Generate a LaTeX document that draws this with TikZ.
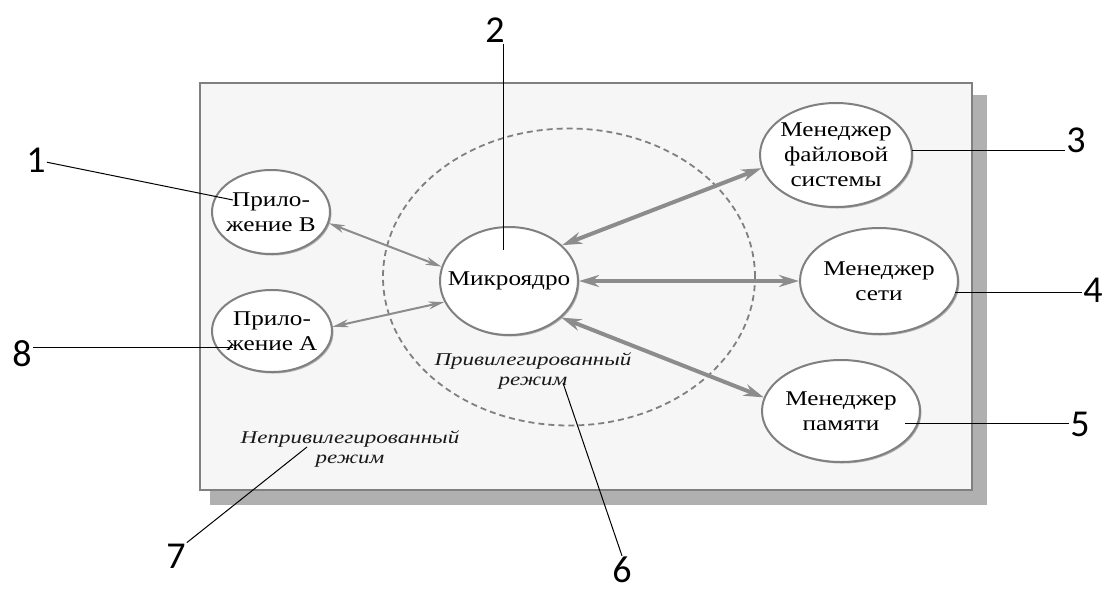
\documentclass[tikz,border=0pt]{standalone}
\usepackage{fontspec}
\setmainfont{Liberation Serif}
\newfontfamily\boxfont[FakeStretch=1.2]{Liberation Serif}
\newfontfamily\modefont[FakeStretch=1.28]{Liberation Serif}
\newfontfamily\numfont{Carlito}
\usepackage{tikz}
\usetikzlibrary{arrows.meta,shapes.geometric,shadows,positioning,calc}

\definecolor{linegray}{HTML}{808080}
\definecolor{arrowgray}{HTML}{8C8C8C}
\definecolor{framefill}{HTML}{F6F6F6}
\definecolor{shadowgray}{HTML}{B0B0B0}

\begin{document}
\begin{tikzpicture}[x=1pt,y=-1pt,
		module/.style={ellipse, draw=linegray, line width=2pt, fill=white, inner xsep=-15pt, inner ysep=-4pt, align=center, font=\boxfont\fontsize{21}{25}\selectfont, drop shadow={shadow xshift=1.5pt, shadow yshift=-1.5pt, fill=shadowgray, opacity=1}},
		link/.style={draw=arrowgray, line width=2pt, {Stealth[length=16pt,width=8pt]}-{Stealth[length=16pt,width=8pt]}},
		biglink/.style={draw=arrowgray, line width=4pt, {Stealth[length=20pt,width=12pt]}-{Stealth[length=20pt,width=12pt]}},
		callout/.style={draw=black, line width=1pt},
		num/.style={font=\numfont\fontsize{38}{40}\selectfont, inner sep=1pt},
		modetext/.style={align=center, font=\modefont\itshape\fontsize{18}{20}\selectfont, text=black!90}]
		\useasboundingbox (0,0) rectangle (1105,590);

		% frame with shadow
		\fill[shadowgray] (210,95) rectangle (987,505);
		\draw[linegray, line width=2.2pt, fill=framefill] (200,83) rectangle (972,490);

		% privileged zone
		\node[ellipse, draw=linegray, dash pattern=on 6pt off 4pt, line width=1.8pt, minimum width=372pt, minimum height=297pt, inner sep=0pt] (privzone) at (569,277) {};

		\node[module, minimum width=118pt, minimum height=84pt] (appB) at (271,212) {Прило-\\жение В};
		\node[module, minimum width=120pt, minimum height=82pt] (appA) at (272,331) {Прило-\\жение А};
		\node[module, minimum width=138pt, minimum height=108pt] (kernel) at (509,281) {Микроядро};
		\node[module, minimum width=152pt, minimum height=104pt] (fsmgr) at (836,155) {Менеджер\\файловой\\системы};
		\node[module, minimum width=158pt, minimum height=106pt] (netmgr) at (879,281) {Менеджер\\сети};
		\node[module, minimum width=158pt, minimum height=102pt] (memmgr) at (841,411) {Менеджер\\памяти};

		\draw[link] (appB.-11) -- (kernel.168);
		\draw[link] (appA.4) -- (kernel.-162);
		\draw[biglink] (kernel.34) -- (fsmgr.-170);
		\draw[biglink] (kernel) -- (netmgr);
		\draw[biglink] (kernel.-35) -- (memmgr.170);

		\node[modetext] (privtext) at (533,371) {Привилегированный\\режим};
		\node[modetext] (usertext) at (350,449) {Непривилегированный\\режим};

		% numbered callouts
		\node[num] (n1) at (36,160) {1};
		\node[num] (n2) at (495,30) {2};
		\node[num] (n3) at (1076,140) {3};
		\node[num] (n4) at (1093,290) {4};
		\node[num] (n5) at (1080,424) {5};
		\node[num] (n6) at (622,570) {6};
		\node[num] (n7) at (176,556) {7};
		\node[num] (n8) at (22,354) {8};

		\coordinate (c1) at (233,200);
		\coordinate (c2) at (503,250);
		\coordinate (c3) at (912,150);
		\coordinate (c4) at (955,292);
		\coordinate (c5) at (905,423);
		\coordinate (c6) at (563,383);
		\coordinate (c7) at (307,447);
		\coordinate (c8) at (233,347);

		\draw[callout] (n1) -- (c1);
		\draw[callout] (c2 |- n2.south) -- (c2);
		\draw[callout] (c3) -- (c3 -| n3.west);
		\draw[callout] (c4) -- (c4 -| n4.west);
		\draw[callout] (c5) -- (c5 -| n5.west);
		\draw[callout] (c6) -- (n6.north);
		\draw[callout] (c7) -- (n7.north east);
		\draw[callout] (c8 -| n8.east) -- (c8);
	\end{tikzpicture}
\end{document}
